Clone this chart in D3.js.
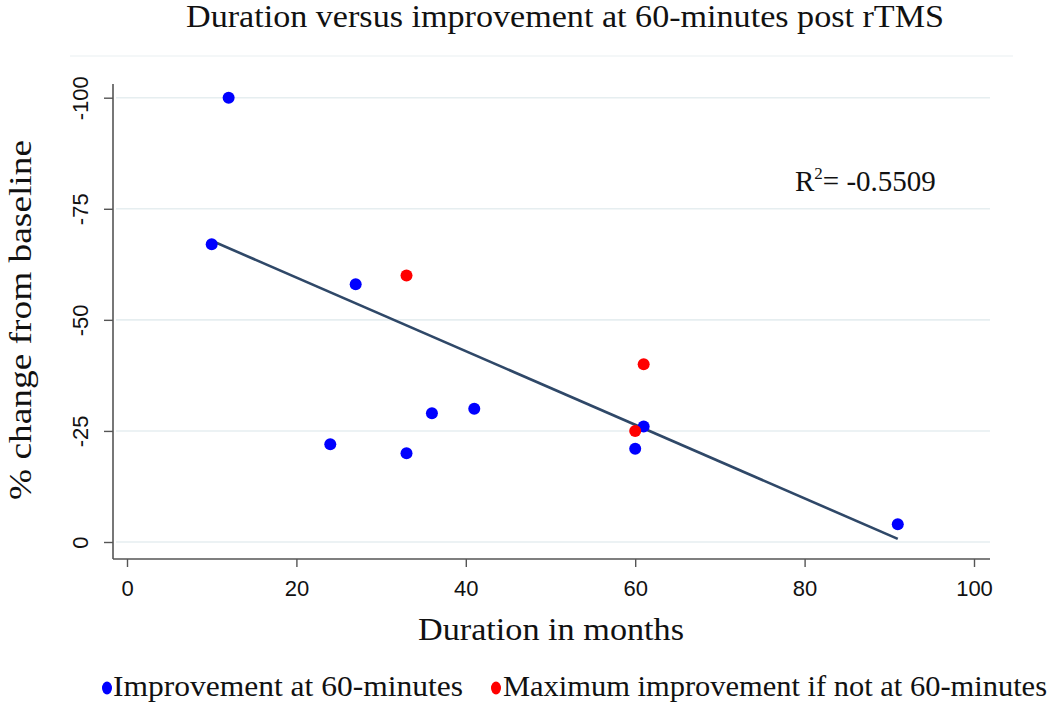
<!DOCTYPE html>
<html>
<head>
<meta charset="utf-8">
<script src="https://cdn.jsdelivr.net/npm/d3@7"></script>
<style>
  html, body { margin: 0; padding: 0; background: #fff; }
  svg { display: block; }
</style>
</head>
<body>
<script>
// ---- data ----
const blueDuration = [12, 10, 27, 24, 33, 36, 41, 60, 61, 91];
const blueChange   = [-100, -67, -58, -22, -20, -29, -30, -21, -26, -4];
const redDuration  = [33, 61, 60];
const redChange    = [-60, -40, -25];
const fitDuration  = [10, 91];
const fitChange    = [-67.8, -0.7];
const xTicks = [0, 20, 40, 60, 80, 100];
const yTicks = [0, -25, -50, -75, -100];
const titleText = "Duration versus improvement at 60-minutes post rTMS";
const xLabel = "Duration in months";
const yLabel = "% change from baseline";
const legendLabels = ["Improvement at 60-minutes", "Maximum improvement if not at 60-minutes"];
const r2Value = "-0.5509";

const W = 1050, H = 706;
const svg = d3.select("body").append("svg").attr("width", W).attr("height", H);

const x = d3.scaleLinear().domain([0, 100]).range([127, 974]);
const y = d3.scaleLinear().domain([0, -100]).range([542, 97.7]);

const serif = "'Liberation Serif', 'Times New Roman', serif";
const sansN = "'Liberation Sans Narrow', 'Arial Narrow', 'Liberation Sans', sans-serif";

// faint outer plot-region line
svg.append("line").attr("x1", 70).attr("x2", 1013).attr("y1", 56).attr("y2", 56)
  .attr("stroke", "#f1f5f6").attr("stroke-width", 1.5);

// gridlines
svg.append("g").selectAll("line").data(yTicks).join("line")
  .attr("x1", 116).attr("x2", 990)
  .attr("y1", d => y(d)).attr("y2", d => y(d))
  .attr("stroke", "#e6eef0").attr("stroke-width", 1.6);

// axes
const yAxis = d3.axisLeft(y).tickValues(yTicks).tickSize(9).tickSizeOuter(0).tickFormat(d => String(d));
const gy = svg.append("g").attr("transform", "translate(113,0)").call(yAxis);
gy.select(".domain").attr("d", "M0,84V559").attr("stroke", "#555").attr("stroke-width", 1.6);
gy.selectAll(".tick line").attr("stroke", "#555").attr("stroke-width", 1.4);
gy.selectAll(".tick text")
  .attr("font-family", sansN).attr("font-size", 22).attr("fill", "#111")
  .attr("x", null).attr("dy", null)
  .attr("text-anchor", "middle")
  .attr("transform", "translate(-25,0) rotate(-90)");

const xAxis = d3.axisBottom(x).tickValues(xTicks).tickSize(8).tickSizeOuter(0).tickFormat(d => String(d));
const gx = svg.append("g").attr("transform", "translate(0,559)").call(xAxis);
gx.select(".domain").attr("d", "M113,0H990").attr("stroke", "#555").attr("stroke-width", 1.6);
gx.selectAll(".tick line").attr("stroke", "#555").attr("stroke-width", 1.4);
gx.selectAll(".tick text")
  .attr("font-family", sansN).attr("font-size", 22).attr("fill", "#111")
  .attr("y", 37).attr("dy", null);

// fit line
const fitData = fitDuration.map((d, i) => [d, fitChange[i]]);
svg.append("path").datum(fitData)
  .attr("d", d3.line().x(d => x(d[0])).y(d => y(d[1])))
  .attr("fill", "none").attr("stroke", "#2f4868").attr("stroke-width", 2.6);

// points
const blue = blueDuration.map((d, i) => [d, blueChange[i]]);
const red = redDuration.map((d, i) => [d, redChange[i]]);
svg.append("g").selectAll("circle").data(blue).join("circle")
  .attr("cx", d => x(d[0])).attr("cy", d => y(d[1])).attr("r", 6).attr("fill", "#0000ff");
svg.append("g").selectAll("circle").data(red).join("circle")
  .attr("cx", d => x(d[0])).attr("cy", d => y(d[1])).attr("r", 6).attr("fill", "#ff0000");

// title
svg.append("text").attr("x", 565).attr("y", 27).attr("text-anchor", "middle")
  .attr("font-family", serif).attr("font-size", 31).attr("fill", "#111")
  .attr("textLength", 758).attr("lengthAdjust", "spacingAndGlyphs")
  .text(titleText);

// x label
svg.append("text").attr("x", 551).attr("y", 640).attr("text-anchor", "middle")
  .attr("font-family", serif).attr("font-size", 31).attr("fill", "#111")
  .attr("textLength", 266).attr("lengthAdjust", "spacingAndGlyphs")
  .text(xLabel);

// y label
svg.append("text").attr("transform", "translate(31,320) rotate(-90)").attr("text-anchor", "middle")
  .attr("font-family", serif).attr("font-size", 31).attr("fill", "#111")
  .attr("textLength", 360).attr("lengthAdjust", "spacingAndGlyphs")
  .text(yLabel);

// R^2 annotation
const r2 = svg.append("text").attr("x", 795).attr("y", 191)
  .attr("font-family", serif).attr("font-size", 29).attr("fill", "#111");
r2.append("tspan").text("R");
r2.append("tspan").attr("font-size", 17).attr("dy", -12).text("2");
r2.append("tspan").attr("dy", 12).text("= " + r2Value);

// legend
const legend = svg.append("g");
const legItems = [
  { label: legendLabels[0], color: "#0000ff", cx: 107, tx: 113, len: 350 },
  { label: legendLabels[1], color: "#ff0000", cx: 496, tx: 503, len: 544 }
];
legItems.forEach(it => {
  legend.append("ellipse").attr("cx", it.cx).attr("cy", 688).attr("rx", 5).attr("ry", 6.5).attr("fill", it.color);
  legend.append("text").attr("x", it.tx).attr("y", 696)
    .attr("font-family", serif).attr("font-size", 29).attr("fill", "#111")
    .attr("textLength", it.len).attr("lengthAdjust", "spacingAndGlyphs")
    .text(it.label);
});
</script>
</body>
</html>
